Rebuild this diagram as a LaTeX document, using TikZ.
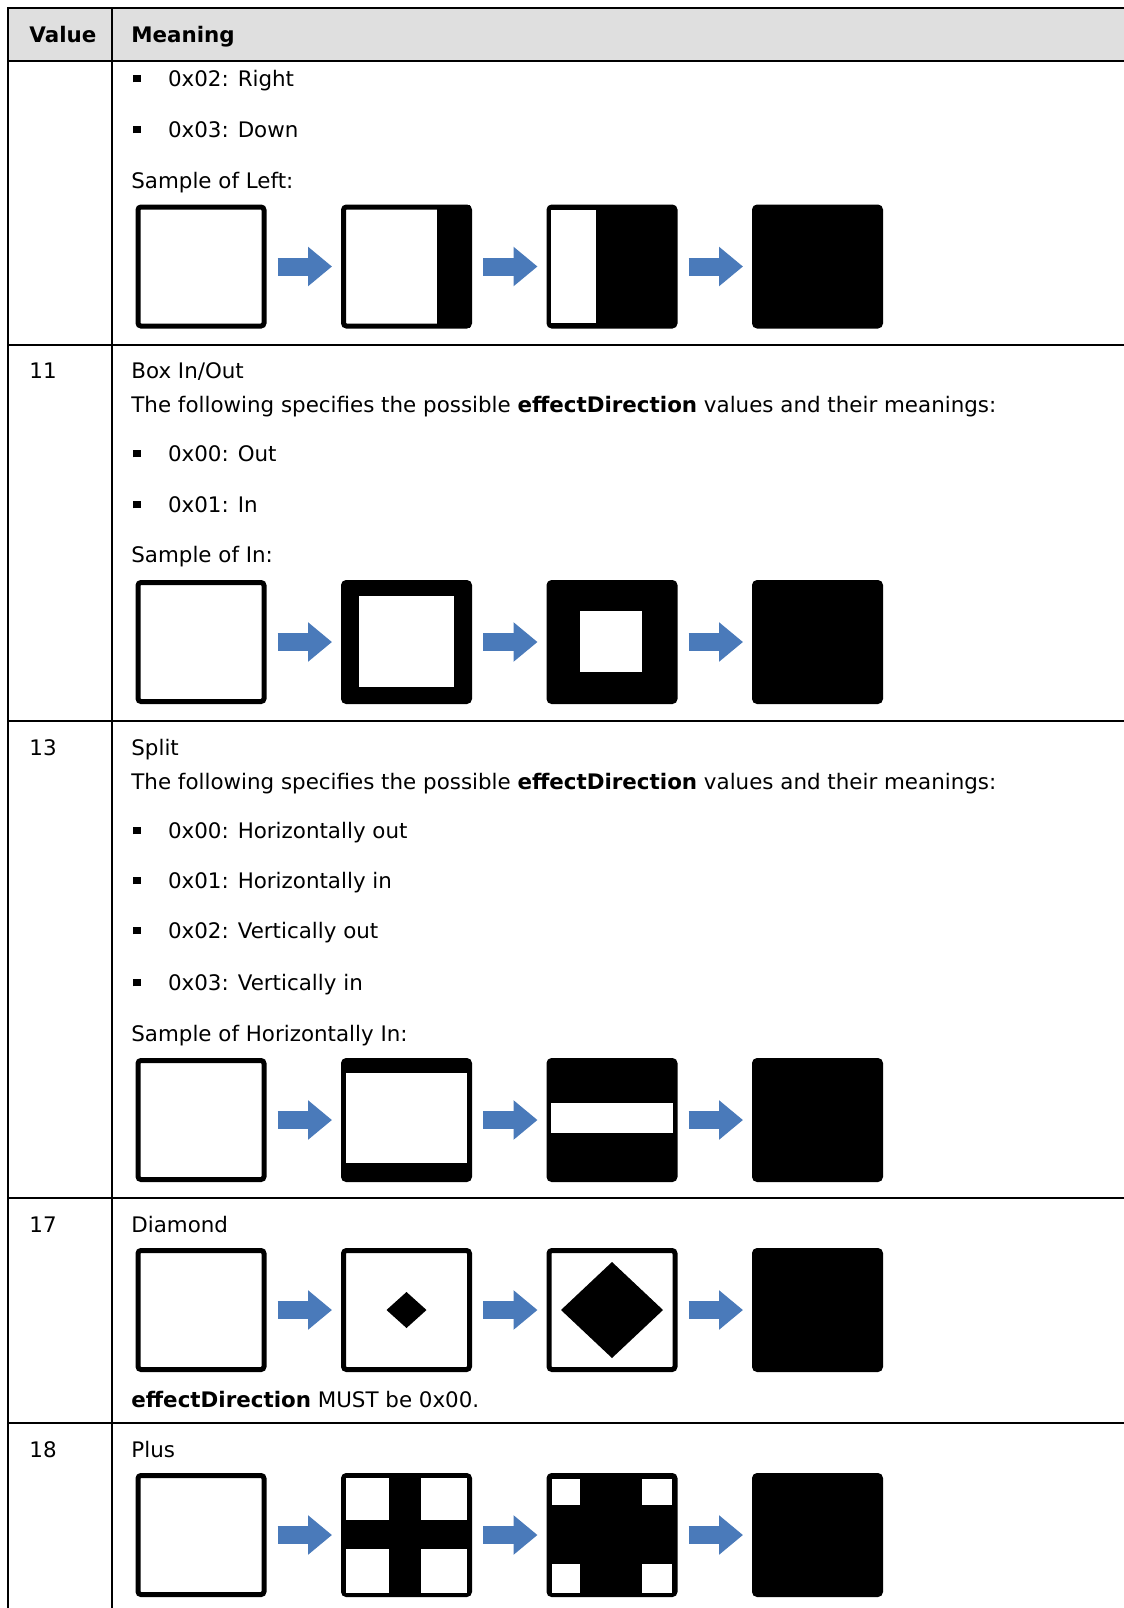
\documentclass[tikz,border=0pt]{standalone}
\usepackage{fontspec}
\setmainfont{DejaVu Sans}
\usetikzlibrary{arrows.meta}

\definecolor{headgrey}{RGB}{223,223,223}
\definecolor{arrowblue}{RGB}{74,122,186}

\newcommand{\sqbul}{\rule[1.8pt]{3.8pt}{3.8pt}\hspace{13.5pt}}

\tikzset{
  txt/.style={anchor=base west, inner sep=0pt, font=\fontsize{10.7pt}{12.8pt}\selectfont},
  rule/.style={line width=1pt},
  frame/.style={draw, line width=2.5pt, rounded corners=1.5pt, minimum width=63pt, minimum height=59.5pt, inner sep=0pt, fill=white},
  blackbox/.style={frame, fill=black},
  blockarrow/.style={arrowblue, line width=9pt, shorten <=5.5pt, shorten >=4.5pt, -{Triangle[length=12pt 0 0, width=19pt 0 0]}}
}

\begin{document}
\begin{tikzpicture}[x=0.5pt, y=-0.5pt]

  \useasboundingbox (0,0) rectangle (1124,1608);

  % table
  \fill[headgrey] (8,8) rectangle (1124,61);
  \draw[rule] (1124,8) -- (8,8) -- (8,1608);
  \draw[rule] (112,8) -- (112,1608);
  \draw[rule] (8,61) -- (1124,61);
  \draw[rule] (8,345) -- (1124,345);
  \draw[rule] (8,721) -- (1124,721);
  \draw[rule] (8,1198) -- (1124,1198);
  \draw[rule] (8,1423) -- (1124,1423);

  \node[txt] (hval) at (29,42) {\textbf{Value}};
  \node[txt] (hmean) at (131,42) {\textbf{Meaning}};

  % left
  \node[txt] (lb2) at (133,86) {\sqbul 0x02: Right};
  \node[txt] (lb3) at (133,137) {\sqbul 0x03: Down};
  \node[txt] (lsam) at (131,188) {Sample of Left:};

  \node[frame] (l1) at (201,266.5) {};
  \node[frame] (l2) at (406.5,266.5) {};
  \node[blackbox] (l3) at (612,266.5) {};
  \node[blackbox] (l4) at (817.5,266.5) {};
  \fill (437,205) rectangle (470,328);
  \fill[white] (551,210) rectangle (596,323);

  \draw[blockarrow] (l1) -- (l2);
  \draw[blockarrow] (l2) -- (l3);
  \draw[blockarrow] (l3) -- (l4);

  % box in/out
  \node[txt] (ival) at (29,378) {11};
  \node[txt] (iname) at (131,378) {Box In/Out};
  \node[txt] (ifol) at (131,412) {The following specifies the possible \textbf{effectDirection} values and their meanings:};
  \node[txt] (ib0) at (133,461) {\sqbul 0x00: Out};
  \node[txt] (ib1) at (133,512) {\sqbul 0x01: In};
  \node[txt] (isam) at (131,562) {Sample of In:};

  \node[frame] (i1) at (201,642) {};
  \node[blackbox] (i2) at (406.5,642) {};
  \node[blackbox] (i3) at (612,642) {};
  \node[blackbox] (i4) at (817.5,642) {};
  \fill[white] (359,596) rectangle (454,687);
  \fill[white] (580,611) rectangle (642,672);

  \draw[blockarrow] (i1) -- (i2);
  \draw[blockarrow] (i2) -- (i3);
  \draw[blockarrow] (i3) -- (i4);

  % split
  \node[txt] (sval) at (29,755) {13};
  \node[txt] (sname) at (131,755) {Split};
  \node[txt] (sfol) at (131,789) {The following specifies the possible \textbf{effectDirection} values and their meanings:};
  \node[txt] (sb0) at (133,838) {\sqbul 0x00: Horizontally out};
  \node[txt] (sb1) at (133,888) {\sqbul 0x01: Horizontally in};
  \node[txt] (sb2) at (133,938) {\sqbul 0x02: Vertically out};
  \node[txt] (sb3) at (133,990) {\sqbul 0x03: Vertically in};
  \node[txt] (ssam) at (131,1041) {Sample of Horizontally In:};

  \node[frame] (s1) at (201,1120) {};
  \node[blackbox] (s2) at (406.5,1120) {};
  \node[blackbox] (s3) at (612,1120) {};
  \node[blackbox] (s4) at (817.5,1120) {};
  \fill[white] (346,1073) rectangle (467,1163);
  \fill[white] (551,1103) rectangle (673,1133);

  \draw[blockarrow] (s1) -- (s2);
  \draw[blockarrow] (s2) -- (s3);
  \draw[blockarrow] (s3) -- (s4);

  % diamond
  \node[txt] (dval) at (29,1232) {17};
  \node[txt] (dname) at (131,1232) {Diamond};

  \node[frame] (d1) at (201,1310) {};
  \node[frame] (d2) at (406.5,1310) {};
  \node[frame] (d3) at (612,1310) {};
  \node[blackbox] (d4) at (817.5,1310) {};
  \fill (386.5,1310) -- (406.5,1292) -- (426.5,1310) -- (406.5,1328) -- cycle;
  \fill (561,1310) -- (612,1262) -- (663,1310) -- (612,1358) -- cycle;

  \draw[blockarrow] (d1) -- (d2);
  \draw[blockarrow] (d2) -- (d3);
  \draw[blockarrow] (d3) -- (d4);

  \node[txt] (dnote) at (131,1407) {\textbf{effectDirection} MUST be 0x00.};

  % plus
  \node[txt] (pval) at (29,1457) {18};
  \node[txt] (pname) at (131,1457) {Plus};

  \node[frame] (p1) at (201,1535) {};
  \node[blackbox] (p2) at (406.5,1535) {};
  \node[blackbox] (p3) at (612,1535) {};
  \node[blackbox] (p4) at (817.5,1535) {};
  \fill[white] (346,1478) rectangle (389,1520);
  \fill[white] (421,1478) rectangle (467,1520);
  \fill[white] (346,1549) rectangle (389,1593);
  \fill[white] (421,1549) rectangle (467,1593);
  \fill[white] (552,1479) rectangle (580,1505);
  \fill[white] (642,1479) rectangle (672,1505);
  \fill[white] (552,1564) rectangle (580,1593);
  \fill[white] (642,1564) rectangle (672,1593);

  \draw[blockarrow] (p1) -- (p2);
  \draw[blockarrow] (p2) -- (p3);
  \draw[blockarrow] (p3) -- (p4);

\end{tikzpicture}
\end{document}
